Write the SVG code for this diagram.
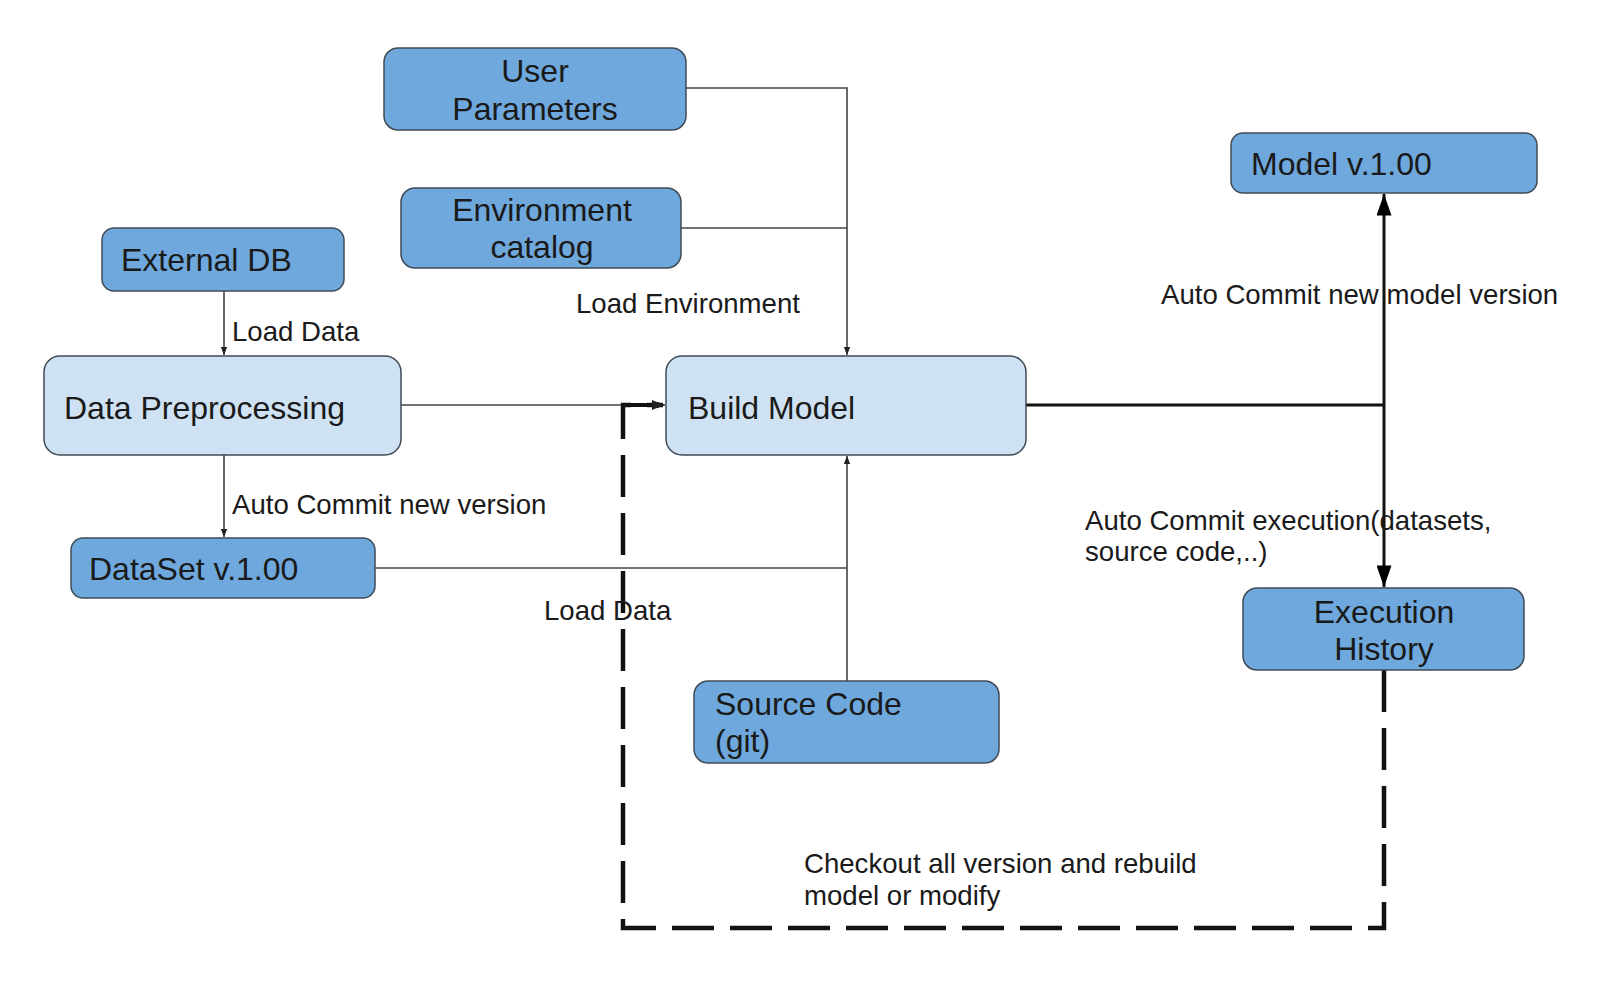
<svg xmlns="http://www.w3.org/2000/svg" width="1610" height="988" viewBox="0 0 1610 988">
<defs>
<style>
.node rect{stroke:#3f4a55;stroke-width:1.5}
.dark rect{fill:#6fa8dc}
.light rect{fill:#cfe2f3}
.nt{font-family:"Liberation Sans",Arial,sans-serif;font-size:32px;fill:#1a1a1a}
.lb{font-family:"Liberation Sans",Arial,sans-serif;font-size:27.6px;fill:#1a1a1a}
.thin{fill:none;stroke:#444;stroke-width:1.6}
.thick{fill:none;stroke:#111;stroke-width:3}
.dash{fill:none;stroke:#111;stroke-width:4.5;stroke-dasharray:42 16}
</style>
<marker id="sm" viewBox="0 0 10 10" refX="10" refY="5" markerWidth="8" markerHeight="8" markerUnits="userSpaceOnUse" orient="auto">
<path d="M0,1 L10,5 L0,9 Z" fill="#222"/>
</marker>
<marker id="big" viewBox="0 0 20 14" refX="20" refY="7" markerWidth="22" markerHeight="15" markerUnits="userSpaceOnUse" orient="auto">
<path d="M0,0 L20,7 L0,14 Z" fill="#000"/>
</marker>
</defs>
<rect width="1610" height="988" fill="#fff"/>

<g id="connectors">
<path class="thin" d="M224,291 V355" marker-end="url(#sm)"/>
<path class="thin" d="M224,455 V537" marker-end="url(#sm)"/>
<path class="thin" d="M686,88 H847 V355" marker-end="url(#sm)"/>
<path class="thin" d="M681,228 H847"/>
<path class="thin" d="M401,405 H665" marker-end="url(#sm)"/>
<path class="thin" d="M375,568 H847"/>
<path class="thin" d="M847,681 V456" marker-end="url(#sm)"/>
<path class="thick" d="M1026,405 H1384"/>
<path class="thick" d="M1384,405 V194" marker-end="url(#big)"/>
<path class="thick" d="M1384,405 V587" marker-end="url(#big)"/>
<path class="dash" d="M1384,670 V928 H623 V405 H663"/>
<path fill="none" stroke="#111" stroke-width="4" d="M623,413 V405 H655"/>
<path d="M652,400 L664,405 L652,410 Z" fill="#222"/>
</g>

<g id="labels">
<text class="lb" x="232" y="341">Load Data</text>
<text class="lb" x="576" y="313">Load Environment</text>
<text class="lb" x="232" y="514">Auto Commit new version</text>
<text class="lb" x="544" y="620">Load Data</text>
<text class="lb" x="1161" y="304">Auto Commit new model version</text>
<text class="lb" x="1085" y="530">Auto Commit execution(datasets,</text>
<text class="lb" x="1085" y="561">source code,..)</text>
<text class="lb" x="804" y="873">Checkout all version and rebuild</text>
<text class="lb" x="804" y="905">model or modify</text>
</g>

<g id="user-parameters" class="node dark">
<rect x="384" y="48" width="302" height="82" rx="14"/>
<text class="nt" x="535" y="82" text-anchor="middle">User</text>
<text class="nt" x="535" y="120" text-anchor="middle">Parameters</text>
</g>
<g id="environment-catalog" class="node dark">
<rect x="401" y="188" width="280" height="80" rx="14"/>
<text class="nt" x="542" y="221" text-anchor="middle">Environment</text>
<text class="nt" x="542" y="258" text-anchor="middle">catalog</text>
</g>
<g id="external-db" class="node dark">
<rect x="102" y="228" width="242" height="63" rx="12"/>
<text class="nt" x="121" y="271">External DB</text>
</g>
<g id="data-preprocessing" class="node light">
<rect x="44" y="356" width="357" height="99" rx="16"/>
<text class="nt" x="64" y="419">Data Preprocessing</text>
</g>
<g id="build-model" class="node light">
<rect x="666" y="356" width="360" height="99" rx="16"/>
<text class="nt" x="688" y="419">Build Model</text>
</g>
<g id="model-v1" class="node dark">
<rect x="1231" y="133" width="306" height="60" rx="12"/>
<text class="nt" x="1251" y="175">Model v.1.00</text>
</g>
<g id="dataset-v1" class="node dark">
<rect x="71" y="538" width="304" height="60" rx="12"/>
<text class="nt" x="89" y="580">DataSet v.1.00</text>
</g>
<g id="execution-history" class="node dark">
<rect x="1243" y="588" width="281" height="82" rx="14"/>
<text class="nt" x="1384" y="623" text-anchor="middle">Execution</text>
<text class="nt" x="1384" y="660" text-anchor="middle">History</text>
</g>
<g id="source-code" class="node dark">
<rect x="694" y="681" width="305" height="82" rx="14"/>
<text class="nt" x="715" y="715">Source Code</text>
<text class="nt" x="715" y="752">(git)</text>
</g>
</svg>
